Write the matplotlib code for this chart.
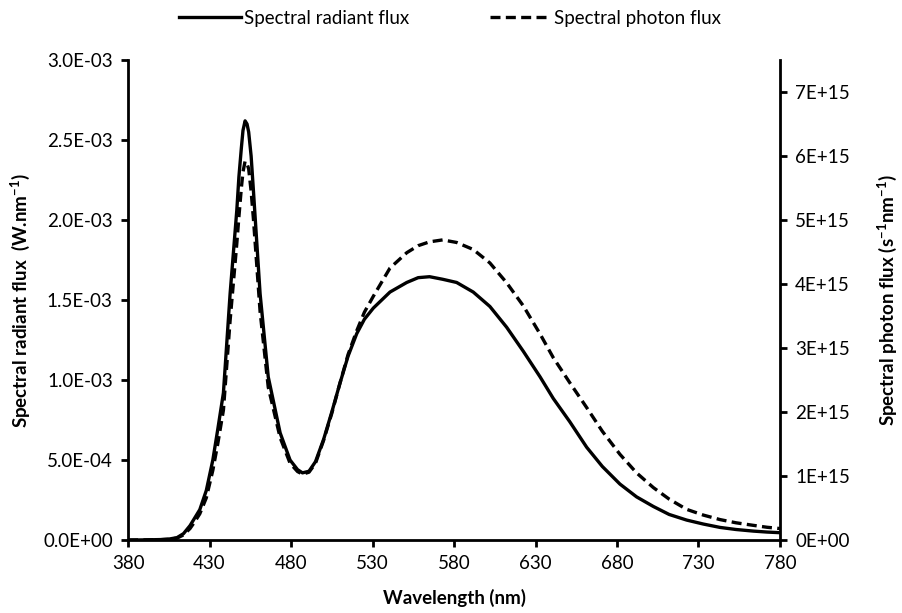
import numpy as np
import matplotlib
matplotlib.use('Agg')
from matplotlib import pyplot as plt
from matplotlib.ticker import FuncFormatter, MultipleLocator

# wavelength grid (nm)
wavelength = [380, 390, 400, 405, 410, 414, 418, 421, 424, 428, 432, 435, 438.5, 442.6,
              446.7, 448, 449.5, 450.5, 451.8, 453, 454, 455.5, 457, 461, 466, 473.3,
              479.4, 484, 487, 491, 495, 500, 505, 510, 515, 520.3, 525, 530.5, 540.7,
              551, 558, 565, 573, 581.6, 591.8, 602, 612.3, 622.5, 632.8, 640.9, 651,
              661.4, 671, 681.8, 692, 702.3, 712, 722.7, 733, 743.2, 753, 763.6, 772, 780]

# spectral radiant flux, W/nm (left axis)
radiant_flux = [0.0, 0.000001, 0.000003, 0.000006, 0.000015, 0.00004, 0.00009, 0.00014,
                0.00019, 0.00031, 0.0005, 0.00069, 0.00092, 0.00154, 0.00206, 0.00227,
                0.00245, 0.00256, 0.00262, 0.0026, 0.00255, 0.0024, 0.00217, 0.00154,
                0.00102, 0.00067, 0.0005, 0.00044, 0.00042, 0.00043, 0.00049, 0.00063,
                0.0008, 0.00098, 0.00115, 0.00129, 0.00138, 0.00145, 0.00155, 0.00161,
                0.00164, 0.001646, 0.00163, 0.00161, 0.00155, 0.00146, 0.00133, 0.00118,
                0.00102, 0.000885, 0.00074, 0.00058, 0.00046, 0.00035, 0.00027, 0.00021,
                0.00016, 0.000125, 0.0001, 0.000079, 0.000066, 0.000056, 0.00005, 0.000046]

# spectral photon flux, 1/(s nm) (right axis)
photon_flux = [0.0, 0.002e15, 0.006e15, 0.012e15, 0.03e15, 0.08e15, 0.18e15, 0.29e15,
               0.41e15, 0.66e15, 1.09e15, 1.5e15, 2.03e15, 3.43e15, 4.63e15, 5.05e15,
               5.5e15, 5.75e15, 5.92e15, 5.88e15, 5.8e15, 5.45e15, 4.99e15, 3.57e15,
               2.39e15, 1.6e15, 1.2e15, 1.07e15, 1.03e15, 1.06e15, 1.2e15, 1.56e15,
               1.98e15, 2.45e15, 2.9e15, 3.27e15, 3.56e15, 3.81e15, 4.25e15, 4.49e15,
               4.6e15, 4.66e15, 4.69e15, 4.65e15, 4.54e15, 4.33e15, 4.02e15, 3.66e15,
               3.22e15, 2.85e15, 2.46e15, 2.07e15, 1.7e15, 1.34e15, 1.05e15, 0.82e15,
               0.64e15, 0.48e15, 0.39e15, 0.32e15, 0.27e15, 0.23e15, 0.2e15, 0.18e15]

x_ticks = [380, 430, 480, 530, 580, 630, 680, 730, 780]

plt.rcParams['font.family'] = ['Lato', 'DejaVu Sans']
plt.rcParams['mathtext.fontset'] = 'custom'
plt.rcParams['mathtext.rm'] = 'Lato'
plt.rcParams['mathtext.bf'] = 'Lato:bold'
plt.rcParams['font.size'] = 13.5

fig = plt.figure(figsize=(9.02, 6.13), dpi=100)
ax = fig.add_axes([0.142, 0.119, 0.7227, 0.783])
ax2 = ax.twinx()

l1, = ax.plot(wavelength, radiant_flux, color='black', lw=2.4, label='Spectral radiant flux')
l2, = ax2.plot(wavelength, photon_flux, color='black', lw=2.4, ls=(0, (3, 1.6)),
               label='Spectral photon flux')

ax.set_xlim(380, 780)
ax.set_ylim(0, 3.0e-3)
ax2.set_ylim(0, 7.5e15)
ax.set_xticks(x_ticks)
ax.yaxis.set_major_locator(MultipleLocator(0.5e-3))
ax2.yaxis.set_major_locator(MultipleLocator(1e15))
ax.yaxis.set_major_formatter(FuncFormatter(lambda v, p: f'{v:.1E}'))
ax2.yaxis.set_major_formatter(FuncFormatter(lambda v, p: f'{v:.0E}'))

for a in (ax, ax2):
    a.spines['top'].set_visible(False)
    for s in ('left', 'right', 'bottom'):
        a.spines[s].set_linewidth(2)
    a.tick_params(direction='out', width=2, length=5, colors='black', pad=6)
ax.spines['right'].set_visible(False)
ax2.spines['left'].set_visible(False)
ax2.spines['bottom'].set_visible(False)

ax.set_xlabel('Wavelength (nm)', fontweight='bold', labelpad=12)
ax.set_ylabel(r'Spectral radiant flux  (W.nm$^{\mathbf{-1}}$)', fontweight='bold', labelpad=8)
ax2.set_ylabel(r'Spectral photon flux (s$^{\mathbf{-1}}$nm$^{\mathbf{-1}}$)', fontweight='bold',
               rotation=90, labelpad=18)

fig.legend(handles=[l1, l2], loc='center', bbox_to_anchor=(0.499, 0.97), ncol=2,
           frameon=False, handlelength=3.3, handletextpad=0.15, columnspacing=4.3)

fig.savefig('out.png', dpi=100)
